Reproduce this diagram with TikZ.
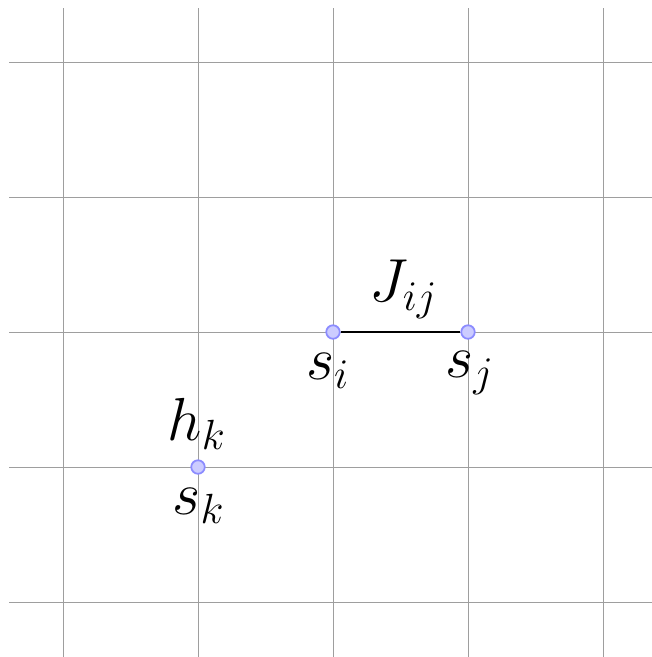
\documentclass[tikz,border=0pt]{standalone}
\begin{document}
\begin{tikzpicture}[x=0.01cm,y=-0.01cm,
  gridline/.style={draw=black!38,line width=0.25pt},
  site/.style={circle,draw=blue!45,fill=blue!20,line width=0.5pt,inner sep=0pt,minimum size=0.135cm},
  lab/.style={inner sep=0pt,font=\fontsize{17}{19}\selectfont}]
\useasboundingbox (0,0) rectangle (652,657);
\foreach \x in {63,198,333,468,603} \draw[gridline] (\x,8) -- (\x,657);
\foreach \y in {62,197,332,467,602} \draw[gridline] (9,\y) -- (652,\y);
\node[site] (si) at (333,332) {};
\node[site] (sj) at (468,332) {};
\node[site] (sk) at (198,467) {};
\draw[black,line width=0.55pt] (si) -- (sj);
\node[lab] (J) at (404,289) {$J_{ij}$};
\node[lab] (li) at (328,371) {$s_i$};
\node[lab] (lj) at (470,373) {$s_j$};
\node[lab] (hk) at (197,424) {$h_k$};
\node[lab] (lk) at (199,506) {$s_k$};
\end{tikzpicture}
\end{document}
